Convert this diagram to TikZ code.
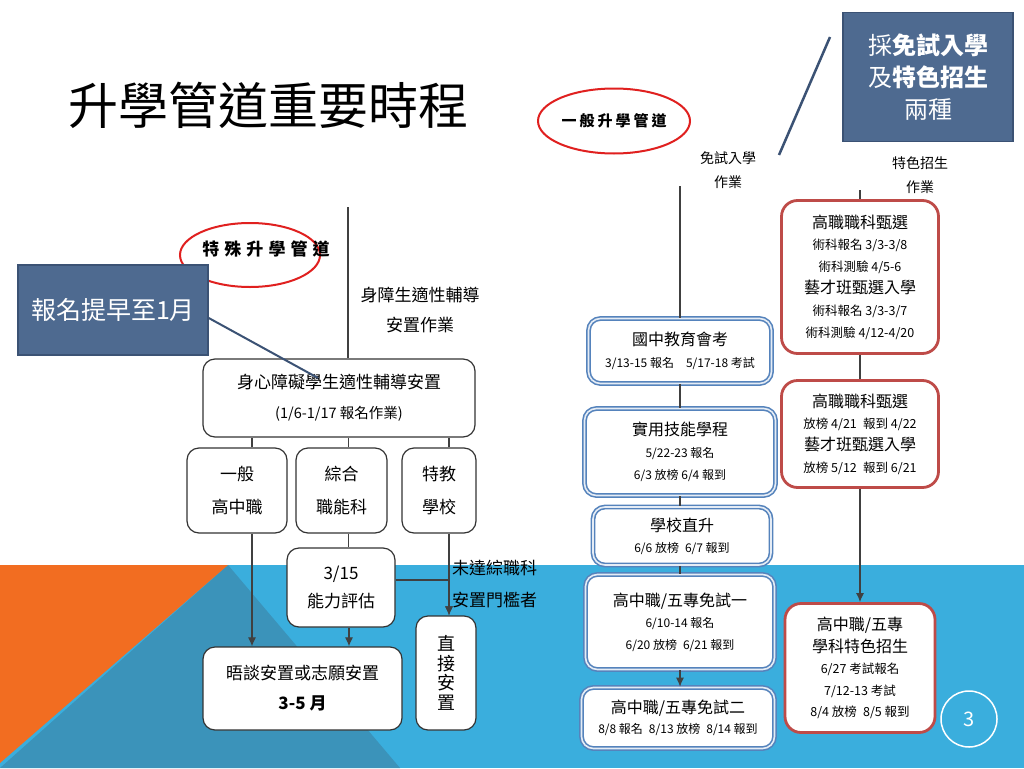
\documentclass[tikz,border=0pt]{standalone}
\usepackage{fontspec}
\setmainfont{Noto Sans CJK TC}
\usetikzlibrary{shapes.geometric,arrows.meta}

\definecolor{slate}{HTML}{4E6A90}
\definecolor{slateline}{HTML}{3B5274}
\definecolor{skyband}{HTML}{3AAEDD}
\definecolor{tealband}{HTML}{3B93BA}
\definecolor{orangeband}{HTML}{F26D21}
\definecolor{boxblue}{HTML}{5583BC}
\definecolor{boxred}{HTML}{BE4B48}
\definecolor{ringred}{HTML}{E0201F}

\newcommand{\fs}[2]{\fontsize{#1}{#2}\selectfont}

\begin{document}
\begin{tikzpicture}[x=1pt,y=-1pt,
            every node/.style={inner sep=0pt},
            plain/.style={draw=black!80, line width=1.2pt, rounded corners=12pt, fill=white, align=center},
            exam/.style={draw=boxblue, line width=1.6pt, double=boxblue!15, double distance=1.6pt, rounded corners=12pt, fill=white, align=center},
            feature/.style={draw=boxred, line width=2.8pt, rounded corners=16pt, fill=white, align=center},
            callout/.style={draw=slateline, line width=1.5pt, fill=slate, text=white, align=center},
            ring/.style={ellipse, draw=ringred, line width=2pt},
            link/.style={draw=black!75, line width=1.1pt},
            >={Latex[length=9pt,width=8pt]}]
  \useasboundingbox (0,0) rectangle (1024,768);
  % background
  \fill[white] (0,0) rectangle (1024,768);
  \fill[skyband] (0,565) rectangle (1024,768);
  \fill[tealband] (228,565) -- (400,768) -- (0,768) -- cycle;
  \fill[orangeband] (0,565) -- (228,565) -- (0,763) -- cycle;

  \node[font=\fs{50}{50}] (title) at (268,105) {升學管道重要時程};

  % special route
  \node[ring, minimum width=140pt, minimum height=64pt] (specring) at (250,255) {};
  \node[font=\fs{17}{17}\bfseries\addfontfeature{LetterSpace=30}] (spectitle) at (266,249) {特殊升學管道};
  \node[align=center, font=\fs{17}{30}] (disablabel) at (420,310) {身障生適性輔導\\安置作業};
  \coordinate (disabtop) at (348,207);
  \node[plain, minimum width=272pt, minimum height=78pt, font=\fs{17}{30}] (placement) at (339,398)
    {身心障礙學生適性輔導安置\\{\fs{14.5}{30}(1/6-1/17 報名作業)}};
  \node[plain, minimum width=100pt, minimum height=85pt, font=\fs{17}{33}] (general) at (237,490.5) {一般\\高中職};
  \node[plain, minimum width=91pt, minimum height=85pt, font=\fs{17}{33}] (vocational) at (341.5,490.5) {綜合\\職能科};
  \node[plain, minimum width=74pt, minimum height=85pt, font=\fs{17}{33}] (specialsch) at (439,490.5) {特教\\學校};
  \node[plain, minimum width=108pt, minimum height=79pt, font=\fs{17}{28}] (assess) at (341,587.5) {3/15\\能力評估};
  \node[plain, minimum width=199pt, minimum height=83pt, font=\fs{17}{30}] (interview) at (302.5,688.5)
    {晤談安置或志願安置\\\textbf{3-5 月}};
  \node[plain, minimum width=60pt, minimum height=114pt, font=\fs{18}{19.5}] (straight) at (446,673) {直\\接\\安\\置};
  \node[align=left, anchor=west, font=\fs{17}{32}] (belowlabel) at (452,584) {未達綜職科\\安置門檻者};

  \draw[link] (disabtop) -- (disabtop |- placement.north);
  \draw[link] ([xshift=15pt]general.north) -- ([xshift=15pt]general.north |- placement.south);
  \draw[link] ([xshift=7pt]vocational.north) -- ([xshift=7pt]vocational.north |- placement.south);
  \draw[link] ([xshift=10pt]specialsch.north) -- ([xshift=10pt]specialsch.north |- placement.south);
  \draw[link] ([xshift=7pt]vocational.south) -- ([xshift=7pt]vocational.south |- assess.north);
  \draw[link,->] ([xshift=15pt]general.south) -- ([xshift=15pt]general.south |- interview.north);
  \draw[link,->] ([xshift=8pt]assess.south) -- ([xshift=8pt]assess.south |- interview.north);
  \draw[link,->] ([xshift=10pt]specialsch.south) -- ([xshift=10pt]specialsch.south |- straight.north);
  \draw[link,->] ([yshift=7.5pt]assess.east) -| ([xshift=3pt]straight.north);

  \node[callout, minimum width=190pt, minimum height=90pt, font=\fs{25}{25}] (early) at (113,310) {報名提早至1月};
  \coordinate (earlyend) at (318,378);
  \draw[slateline, line width=2pt] ([yshift=-8pt]early.east) -- (earlyend);

  % general route
  \node[ring, minimum width=152pt, minimum height=65pt, font=\fs{15}{15}\bfseries\addfontfeature{LetterSpace=20}] (genring) at (614,121) {一般升學管道};
  \node[align=center, font=\fs{14}{24}] (freelabel) at (728,170) {免試入學\\作業};
  \coordinate (freetop) at (680,186);
  \node[exam, minimum width=183pt, minimum height=65pt, font=\fs{16}{22}] (cap) at (680,351)
    {國中教育會考\\{\fs{12}{22}3/13-15 報名\quad 5/17-18 考試}};
  \node[exam, minimum width=191pt, minimum height=87pt, font=\fs{16}{22}] (skill) at (680,452)
    {實用技能學程\\{\fs{12}{22}5/22-23 報名}\\{\fs{12}{22}6/3 放榜 6/4 報到}};
  \node[exam, minimum width=178pt, minimum height=58pt, font=\fs{16}{21}] (rise) at (682,536)
    {學校直升\\{\fs{12}{21}6/6 放榜\enspace 6/7 報到}};
  \node[exam, minimum width=189pt, minimum height=95pt, font=\fs{16}{21.5}] (freeone) at (680,622)
    {高中職/五專免試一\\{\fs{12}{21.5}6/10-14 報名}\\{\fs{12}{21.5}6/20 放榜\enspace 6/21 報到}};
  \node[exam, minimum width=193pt, minimum height=61pt, font=\fs{16}{20}] (freetwo) at (678,718)
    {高中職/五專免試二\\{\fs{12}{20}8/8 報名\enspace 8/13 放榜\enspace 8/14 報到}};

  \draw[link] (freetop) -- (cap.north);
  \draw[link] (cap.south) -- (skill.north);
  \draw[link] (skill.south) -- (skill.south |- rise.north);
  \draw[link] (skill.south |- rise.south) -- (freeone.north);
  \draw[link,->] (freeone.south) -- (freeone.south |- freetwo.north);

  % feature route
  \node[callout, minimum width=170pt, minimum height=129pt, font=\fs{24}{32}] (twoways) at (928,77)
    {採\textbf{免試入學}\\及\textbf{特色招生}\\兩種};
  \coordinate (slashtop) at (830,37);
  \coordinate (slashend) at (779,155);
  \draw[slateline, line width=2.5pt] (slashtop) -- (slashend);
  \node[align=center, font=\fs{14}{24}] (featlabel) at (920,175) {特色招生\\作業};
  \coordinate (feattop) at (860,190);
  \node[feature, minimum width=157pt, minimum height=153pt, font=\fs{16}{21.8}] (vocsel) at (860,277)
    {高職職科甄選\\{\fs{12.5}{21.8}術科報名 3/3-3/8}\\{\fs{12.5}{21.8}術科測驗 4/5-6}\\藝才班甄選入學\\{\fs{12.5}{21.8}術科報名 3/3-3/7}\\{\fs{12.5}{21.8}術科測驗 4/12-4/20}};
  \node[feature, minimum width=157pt, minimum height=107pt, font=\fs{16}{21.7}] (vocresult) at (860,434)
    {高職職科甄選\\{\fs{12.5}{21.7}放榜 4/21\enspace 報到 4/22}\\藝才班甄選入學\\{\fs{12.5}{21.7}放榜 5/12\enspace 報到 6/21}};
  \node[feature, minimum width=150pt, minimum height=129pt, font=\fs{16}{21.5}] (subjfeat) at (860,668)
    {高中職/五專\\學科特色招生\\{\fs{12.5}{21.5}6/27 考試報名}\\{\fs{12.5}{21.5}7/12-13 考試}\\{\fs{12.5}{21.5}8/4 放榜\enspace 8/5 報到}};

  \draw[link] (feattop) -- (vocsel.north);
  \draw[link] (vocsel.south) -- (vocresult.north);
  \draw[link,->] (vocresult.south) -- (subjfeat.north);

  \node[circle, draw=white, line width=1.5pt, minimum size=56pt, text=white, font=\fs{20}{20}] (pagenum) at (969,719) {3};
\end{tikzpicture}
\end{document}
